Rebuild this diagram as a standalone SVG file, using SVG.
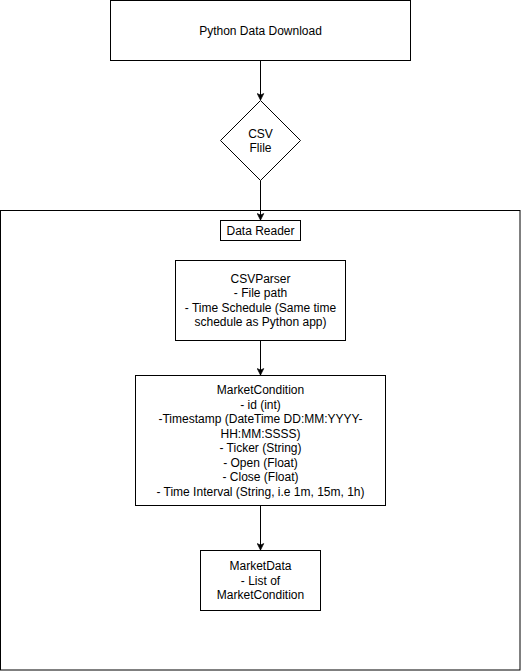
<svg xmlns="http://www.w3.org/2000/svg" width="521" height="671" viewBox="0 0 521 671">
<defs>
<marker id="arr" viewBox="0 0 10 10" refX="9" refY="5" markerWidth="8" markerHeight="8" markerUnits="userSpaceOnUse" orient="auto">
<path d="M1,1 L9,5 L1,9 L3,5 Z" fill="#000" stroke="#000" stroke-width="1"/>
</marker>
</defs>
<style>
.box{fill:#fff;stroke:#000;stroke-width:1}
.t{font-family:"Liberation Sans",Arial,Helvetica,sans-serif;font-size:12px;fill:#000;text-anchor:middle}
.c{fill:none;stroke:#000;stroke-width:1;marker-end:url(#arr)}
</style>
<rect x="0" y="0" width="521" height="671" fill="#fff"/>
<g id="container">
<rect class="box" x="0.5" y="210.5" width="519.5" height="459.5"/>
</g>
<g id="python-data-download">
<rect class="box" x="110.5" y="0.5" width="300" height="60"/>
<text class="t" x="260.5" y="34.5">Python Data Download</text>
</g>
<g id="csv-file">
<path class="box" d="M260.5,100.5 L300.5,140.5 L260.5,180.5 L220.5,140.5 Z"/>
<text class="t" x="260.5" y="137.5">CSV</text>
<text class="t" x="260.5" y="152">Flile</text>
</g>
<g id="data-reader">
<rect class="box" x="220.5" y="220.5" width="80" height="20"/>
<text class="t" x="260.5" y="234.5">Data Reader</text>
</g>
<g id="csv-parser">
<rect class="box" x="175.5" y="260.5" width="170" height="80"/>
<text class="t" x="260.5" y="282.5">CSVParser</text>
<text class="t" x="260.5" y="297">- File path</text>
<text class="t" x="260.5" y="311.5">- Time Schedule (Same time</text>
<text class="t" x="260.5" y="326">schedule as Python app)</text>
</g>
<g id="market-condition">
<rect class="box" x="135.5" y="375.5" width="250" height="130"/>
<text class="t" x="260.5" y="394">MarketCondition</text>
<text class="t" x="260.5" y="408.5">- id (int)</text>
<text class="t" x="260.5" y="423">-Timestamp (DateTime DD:MM:YYYY-</text>
<text class="t" x="260.5" y="437.5">HH:MM:SSSS)</text>
<text class="t" x="260.5" y="452">- Ticker (String)</text>
<text class="t" x="260.5" y="466.5">- Open (Float)</text>
<text class="t" x="260.5" y="481">- Close (Float)</text>
<text class="t" x="260.5" y="495.5">- Time Interval (String, i.e 1m, 15m, 1h)</text>
</g>
<g id="market-data">
<rect class="box" x="200.5" y="550.5" width="120" height="60"/>
<text class="t" x="260.5" y="570">MarketData</text>
<text class="t" x="260.5" y="584.5">- List of</text>
<text class="t" x="260.5" y="599">MarketCondition</text>
</g>
<g id="connectors">
<line class="c" x1="260.5" y1="60.5" x2="260.5" y2="100"/>
<line class="c" x1="260.5" y1="180.5" x2="260.5" y2="220"/>
<line class="c" x1="260.5" y1="340.5" x2="260.5" y2="375"/>
<line class="c" x1="260.5" y1="505.5" x2="260.5" y2="550"/>
</g>
</svg>
